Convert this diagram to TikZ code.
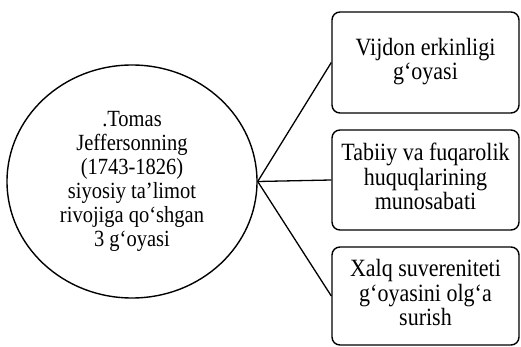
\documentclass[tikz,border=0pt]{standalone}
\usepackage{fontspec}
\usepackage{graphicx}
\setmainfont{Liberation Serif}
\usetikzlibrary{shapes.geometric}
\newcommand{\talltext}[1]{\scalebox{1}[1.13]{\begin{tabular}{@{}c@{}}#1\end{tabular}}}
\begin{document}
\begin{tikzpicture}[x=1pt,y=-1pt,
  idea/.style={draw, line width=1.4pt, rounded corners=8pt, minimum width=187pt, inner sep=0pt, font=\fontsize{22}{21}\selectfont},
  hub/.style={draw, ellipse, line width=1.4pt, minimum width=250pt, minimum height=233pt, inner sep=0pt, font=\fontsize{20.5}{21.2}\selectfont},
  link/.style={line width=1.3pt}]
\useasboundingbox (0,0) rectangle (521,347);
\node[hub] (c) at (132,181.5) {\talltext{.Tomas\\Jeffersonning\\(1743-1826)\\siyosiy ta’limot\\rivojiga qo‘shgan\\3 g‘oyasi}};
\node[idea, minimum height=101pt] (b1) at (425.5,62.5) {\raisebox{-4pt}{\talltext{Vijdon erkinligi\\g‘oyasi}}};
\node[idea, minimum height=100pt] (b2) at (425.5,180) {\talltext{Tabiiy va fuqarolik\\huquqlarining\\munosabati}};
\node[idea, minimum height=98pt] (b3) at (425.5,296) {\talltext{Xalq suvereniteti\\g‘oyasini olg‘a\\surish}};
\draw[link] (c.east) -- (b1.west);
\draw[link] (c.east) -- (b2.west);
\draw[link] (c.east) -- (b3.west);
\end{tikzpicture}
\end{document}
